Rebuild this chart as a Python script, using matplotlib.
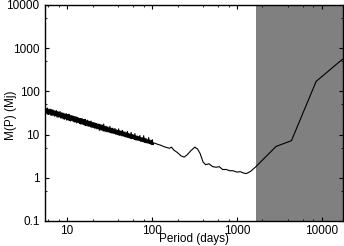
import matplotlib
matplotlib.use("Agg")
import matplotlib.pyplot as plt
from matplotlib.ticker import LogLocator, NullFormatter, FixedLocator

plt.rcParams['font.family'] = ['Liberation Sans', 'DejaVu Sans']

# noisy short-period part
periods_noisy = [
    5.5, 5.59, 5.69, 5.79, 5.89, 5.99, 6.09, 6.19, 6.3, 6.41,
    6.52, 6.63, 6.74, 6.85, 6.97, 7.09, 7.21, 7.33, 7.46, 7.58,
    7.71, 7.85, 7.98, 8.12, 8.26, 8.4, 8.54, 8.69, 8.83, 8.98,
    9.14, 9.29, 9.45, 9.61, 9.78, 9.94, 10.1, 10.3, 10.5, 10.6,
    10.8, 11.0, 11.2, 11.4, 11.6, 11.8, 12.0, 12.2, 12.4, 12.6,
    12.8, 13.0, 13.3, 13.5, 13.7, 14.0, 14.2, 14.4, 14.7, 14.9,
    15.2, 15.5, 15.7, 16.0, 16.3, 16.5, 16.8, 17.1, 17.4, 17.7,
    18.0, 18.3, 18.6, 18.9, 19.2, 19.6, 19.9, 20.3, 20.6, 21.0,
    21.3, 21.7, 22.0, 22.4, 22.8, 23.2, 23.6, 24.0, 24.4, 24.8,
    25.2, 25.7, 26.1, 26.6, 27.0, 27.5, 27.9, 28.4, 28.9, 29.4,
    29.9, 30.4, 30.9, 31.4, 32.0, 32.5, 33.1, 33.6, 34.2, 34.8,
    35.4, 36.0, 36.6, 37.2, 37.9, 38.5, 39.2, 39.9, 40.5, 41.2,
    41.9, 42.7, 43.4, 44.1, 44.9, 45.6, 46.4, 47.2, 48.0, 48.8,
    49.7, 50.5, 51.4, 52.3, 53.2, 54.1, 55.0, 55.9, 56.9, 57.8,
    58.8, 59.8, 60.9, 61.9, 63.0, 64.0, 65.1, 66.2, 67.4, 68.5,
    69.7, 70.9, 72.1, 73.4, 74.6, 75.9, 77.2, 78.5, 79.9, 81.2,
    82.6, 84.0, 85.5, 86.9, 88.4, 89.9, 91.5, 93.0, 94.6, 96.3,
    97.9, 99.6, 101, 103, 105]
mass_noisy = [
    42, 31, 40, 30, 41, 29, 38, 29.5, 39, 28,
    38, 27.5, 37, 28, 36.5, 26.5, 35, 27, 36, 25.5,
    34, 25, 33.5, 25.5, 34, 24, 32, 24, 31.5, 23,
    31, 22.5, 30, 23, 30.5, 21.5, 29, 22, 29.5, 21,
    28, 20.5, 27.5, 21, 27, 20, 26.5, 19.5, 26, 19.5,
    25.5, 18.5, 25, 19, 24, 18, 23.5, 17.5, 23.5, 17.5,
    23, 17, 22, 16.5, 22.5, 16, 21, 16, 21.5, 15.5,
    20.5, 15.5, 20, 15, 20.5, 14.5, 19, 14.5, 19, 14,
    18.5, 14, 18, 13.5, 17.5, 13.5, 17.5, 12.5, 17, 12.8,
    16.8, 12.5, 16.5, 12, 17.5, 12, 15.5, 11.8, 15.5, 11.5,
    15, 11.5, 14.5, 11.2, 15.5, 11, 14, 10.8, 14, 10.6,
    13.5, 10.5, 13.8, 10.2, 13, 10, 12.5, 9.8, 13.5, 9.6,
    12.2, 9.6, 12, 9.3, 12.5, 9.2, 11.5, 9, 11.5, 8.8,
    11, 8.7, 11.8, 8.5, 10.5, 8.3, 10.3, 8.2, 11.2, 8,
    10, 8, 9.8, 7.7, 10.5, 7.5, 9.3, 7.4, 9.2, 7.3,
    9, 7.2, 9.5, 7.0, 8.5, 6.9, 8.4, 6.8, 9.4, 6.6,
    8.2, 6.5, 8, 6.4, 7.6, 6.3, 8.5, 6.2, 7.4, 6.0,
    7.3, 5.9, 7.6, 5.8, 6.4]

# smoother long-period part
periods_smooth = [115, 125, 140, 150, 160, 170, 180, 200, 220, 240, 260, 290, 320, 345,
                  370, 400, 430, 470, 520, 570, 620, 680, 750, 820, 900, 1000, 1100, 1200,
                  1300, 1450, 1650, 2900, 4400, 8600, 17500]
mass_smooth = [6.0, 5.7, 5.2, 5.0, 4.8, 5.1, 4.4, 3.8, 3.2, 3.0, 3.4, 4.3, 5.1, 4.6,
               3.6, 2.3, 2.0, 2.1, 1.8, 1.75, 1.8, 1.55, 1.55, 1.45, 1.45, 1.35, 1.38, 1.28,
               1.25, 1.4, 1.75, 5.3, 7.2, 170, 550]

shade_start = 1670
xlim = (5.5, 17800)
ylim = (0.1, 10000)
yticks = [0.1, 1, 10, 100, 1000, 10000]
ytick_labels = ['0.1', '1', '10', '100', '1000', '10000']
xticks = [10, 100, 1000, 10000]
xtick_labels = ['10', '100', '1000', '10000']

fs = 8.5
fig = plt.figure(figsize=(3.44, 2.46), dpi=100)
ax = fig.add_axes([0.131, 0.102, 0.866, 0.878])
ax.axvspan(shade_start, xlim[1] * 2, color='#808080', lw=0, zorder=1)
ax.plot(periods_noisy + periods_smooth, mass_noisy + mass_smooth,
        color='black', lw=0.8, zorder=3)
ax.set_xscale('log')
ax.set_yscale('log')
ax.set_xlim(*xlim)
ax.set_ylim(*ylim)
ax.yaxis.set_major_locator(FixedLocator(yticks))
ax.set_yticklabels(ytick_labels)
ax.xaxis.set_major_locator(FixedLocator(xticks))
ax.set_xticklabels(xtick_labels)
ax.xaxis.set_minor_locator(LogLocator(base=10, subs=(2, 4, 6, 8)))
ax.yaxis.set_minor_locator(LogLocator(base=10, subs=(5,)))
ax.xaxis.set_minor_formatter(NullFormatter())
ax.yaxis.set_minor_formatter(NullFormatter())
ax.tick_params(which='both', direction='in', top=True, right=True, labelsize=fs)
ax.tick_params(axis='y', which='major', pad=4)
ax.tick_params(axis='x', which='major', pad=3)
ax.tick_params(which='major', length=3, width=0.8)
ax.tick_params(which='minor', length=1.5, width=0.6)
for s in ax.spines.values():
    s.set_linewidth(1.0)
    s.set_zorder(5)
ax.set_xlabel('Period (days)', fontsize=fs, va='center')
ax.xaxis.set_label_coords(0.5, -0.083)
ax.set_ylabel('M(P) (Mj)', fontsize=fs, va='center')
ax.yaxis.set_label_coords(-0.114, 0.49)
fig.savefig('out.png', dpi=100)
